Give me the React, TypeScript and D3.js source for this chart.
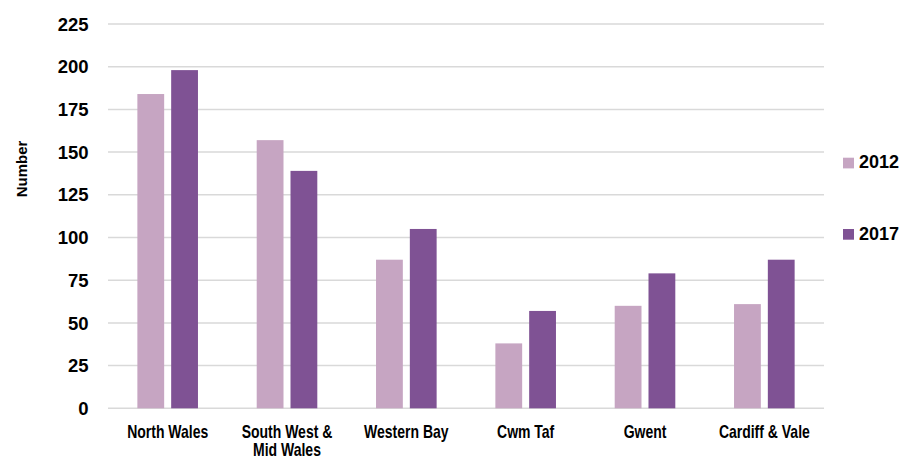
import React from "react";
import * as d3 from "d3";

const categories = ["North Wales", "South West & Mid Wales", "Western Bay", "Cwm Taf", "Gwent", "Cardiff & Vale"];
const categoryLines = [["North Wales"], ["South West &", "Mid Wales"], ["Western Bay"], ["Cwm Taf"], ["Gwent"], ["Cardiff & Vale"]];
const seriesNames = ["2012", "2017"];
const values2012 = [184, 157, 87, 38, 60, 61];
const values2017 = [198, 139, 105, 57, 79, 87];
const yTicks = [0, 25, 50, 75, 100, 125, 150, 175, 200, 225];
const colors = ["#C6A5C2", "#7F5294"];

const W = 904, H = 458;
const left = 108, right = 824, top = 24, bottom = 408.3;
const font = "'Liberation Sans', Arial, sans-serif";

export default function App() {
  const x0 = d3.scaleBand<string>().domain(categories).range([left, right]).paddingInner(0).paddingOuter(0);
  const y = d3.scaleLinear().domain([0, 225]).range([bottom, top]);
  const barW = 26.8;
  const gap = 7;
  const series = [values2012, values2017];

  return (
    <svg width={W} height={H} style={{ position: "absolute", left: 0, top: 0, background: "#fff" }}>
      {yTicks.map((t) => (
        <g key={t}>
          <line x1={left} x2={right} y1={y(t)} y2={y(t)} stroke="#D9D9D9" strokeWidth={1.5} />
          <text x={88.5} y={y(t) + 6.6} textAnchor="end" fontFamily={font} fontWeight="bold" fontSize={18.5} fill="#000">{t}</text>
        </g>
      ))}
      {categories.map((c, i) => {
        const cx = (x0(c) as number) + x0.bandwidth() / 2;
        return (
          <g key={c}>
            {series.map((vals, s) => {
              const bx = s === 0 ? cx - gap / 2 - barW : cx + gap / 2;
              return (
                <rect key={s} x={bx} y={y(vals[i])} width={barW} height={y(0) - y(vals[i])} fill={colors[s]} />
              );
            })}
            {categoryLines[i].map((ln, k) => (
              <text key={k} transform={`translate(${cx}, ${437.5 + k * 18}) scale(0.8, 1)`} textAnchor="middle" fontFamily={font} fontWeight="bold" fontSize={17.5} fill="#000">{ln}</text>
            ))}
          </g>
        );
      })}
      <text transform={`translate(26.5, 169) rotate(-90)`} textAnchor="middle" fontFamily={font} fontWeight="bold" fontSize={15} fill="#000">Number</text>
      {seriesNames.map((n, s) => (
        <g key={n} transform={`translate(843, ${157.7 + s * 71.3})`}>
          <rect x={0} y={0} width={11} height={10.7} fill={colors[s]} />
          <text x={16} y={10.7} fontFamily={font} fontWeight="bold" fontSize={18} fill="#000">{n}</text>
        </g>
      ))}
    </svg>
  );
}
